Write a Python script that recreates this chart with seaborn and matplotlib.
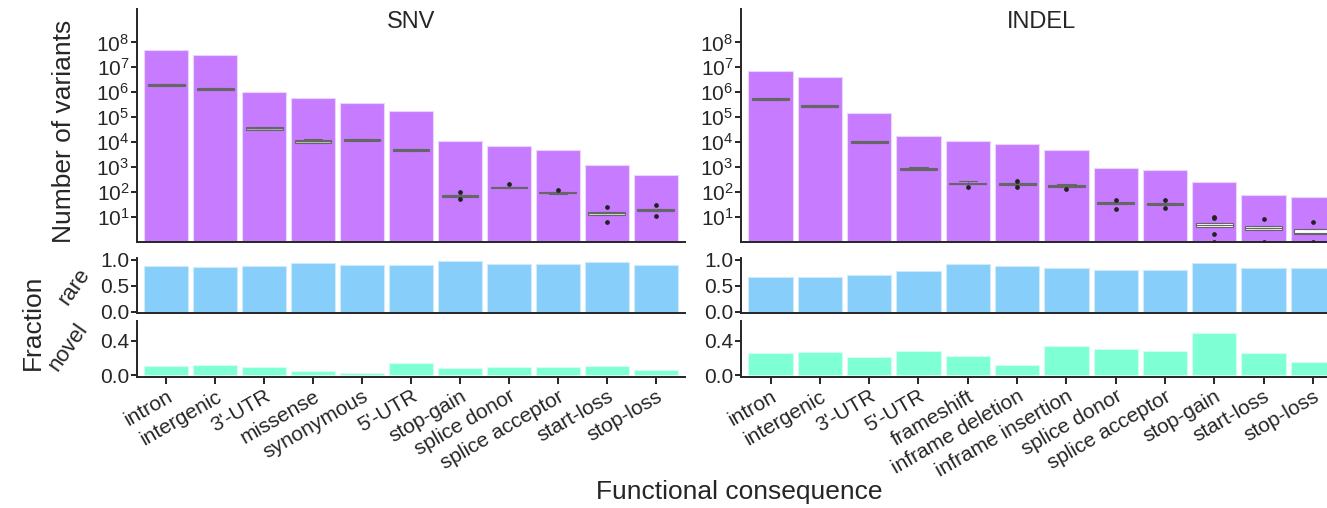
import numpy as np
import pandas as pd
import matplotlib
matplotlib.use("Agg")
import matplotlib.pyplot as plt
import seaborn as sns

# ---------------- data ----------------
snv_categories = ["intron", "intergenic", "3'-UTR", "missense", "synonymous", "5'-UTR",
                  "stop-gain", "splice donor", "splice acceptor", "start-loss", "stop-loss"]
snv_counts = [4.9e7, 3.0e7, 1.05e6, 5.6e5, 3.5e5, 1.7e5, 1.1e4, 6.9e3, 4.9e3, 1.2e3, 4.8e2]
snv_rare = [0.873, 0.86, 0.886, 0.93, 0.89, 0.90, 0.968, 0.91, 0.924, 0.956, 0.905]
snv_novel = [0.104, 0.116, 0.096, 0.048, 0.032, 0.144, 0.084, 0.096, 0.096, 0.104, 0.06]
# per-sample variant counts for each consequence
snv_per_sample = [
    [1.7e6, 1.7e6, 1.9e6, 2.1e6, 2.1e6],
    [1.18e6, 1.18e6, 1.3e6, 1.45e6, 1.45e6],
    [3.15e4, 3.15e4, 3.5e4, 3.9e4, 3.9e4],
    [9.4e3, 9.4e3, 1.05e4, 1.17e4, 1.3e4],
    [1.08e4, 1.08e4, 1.2e4, 1.34e4, 1.34e4],
    [4.2e3, 4.2e3, 4.7e3, 5.2e3, 5.2e3],
    [49, 64, 70, 77, 100],
    [140, 140, 150, 160, 200],
    [80, 86, 92, 98, 120],
    [6, 11.5, 13.5, 15.8, 25],
    [10.5, 17, 19, 21, 28],
]

indel_categories = ["intron", "intergenic", "3'-UTR", "5'-UTR", "frameshift", "inframe deletion",
                    "inframe insertion", "splice donor", "splice acceptor", "stop-gain",
                    "start-loss", "stop-loss"]
indel_counts = [6.9e6, 4.0e6, 1.45e5, 1.8e4, 1.1e4, 8.1e3, 4.7e3, 9.1e2, 7.6e2, 2.4e2, 74, 58]
indel_rare = [0.67, 0.66, 0.71, 0.79, 0.91, 0.873, 0.835, 0.81, 0.80, 0.937, 0.848, 0.842]
indel_novel = [0.256, 0.268, 0.216, 0.28, 0.228, 0.124, 0.34, 0.308, 0.28, 0.496, 0.256, 0.156]
indel_per_sample = [
    [4.7e5, 4.7e5, 5.2e5, 5.8e5, 5.8e5],
    [2.5e5, 2.5e5, 2.8e5, 3.1e5, 3.1e5],
    [9e3, 9e3, 1e4, 1.1e4, 1.1e4],
    [750, 750, 830, 920, 1.0e3],
    [150, 195, 210, 225, 260],
    [158, 192, 205, 220, 277],
    [129, 158, 170, 182, 200],
    [20, 31, 34, 37, 48],
    [22, 29, 32, 35, 47],
    [1, 2, 4, 4, 4.7, 5.5, 5.5, 8.5, 9.5],
    [1, 3.0, 3.6, 4.3, 8.3],
    [1, 2.05, 2.15, 3.2, 6],
]

# ---------------- styling ----------------
sns.set_style("ticks")
plt.rcParams["font.family"] = ["Liberation Sans", "DejaVu Sans"]
plt.rcParams["axes.linewidth"] = 1.4

PURPLE = "#C77CFF"
BLUE = "#87CEFA"
GREEN = "#7FFFD4"
snv_box_greys = ["#bcbcbc", "#b8b8b8", "#b4b4b4", "#c4c4c4", "#b4b4b4", "#b0b0b0",
                 "#505050", "#555555", "#6a6a6a", "#e0e0e0", "#d4d4d4"]
indel_box_greys = ["#b0b0b0", "#a4a4a4", "#949494", "#949494", "#3a3a3a", "#444444",
                   "#484848", "#7a7a7a", "#9c9c9c", "#ffffff", "#f2f2f2", "#ffffff"]

W, H = 1327, 508
fig = plt.figure(figsize=(W / 100, H / 100), dpi=100)


def px_axes(x0, y_top, x1, y_bot):
    return fig.add_axes([x0 / W, 1 - y_bot / H, (x1 - x0) / W, (y_bot - y_top) / H])


TICK_FS = 15


def style_axis(ax, n, show_x):
    sns.despine(ax=ax)
    ax.set_xlim(-0.6, n - 0.4)
    ax.set_xlabel("")
    ax.set_ylabel("")
    ax.tick_params(axis="y", length=4, width=1.2, labelsize=TICK_FS, pad=1.5, color="black")
    if show_x:
        ax.tick_params(axis="x", length=5, width=1.2, labelsize=TICK_FS, pad=2, color="black")
    else:
        ax.tick_params(axis="x", length=0, labelbottom=False)


def draw_counts(ax, cats, counts, samples, greys, title):
    ax.set_yscale("log")
    bars = pd.DataFrame({"consequence": cats, "variants": counts})
    # on the log axis the bars rise from a count of one
    sns.barplot(data=bars, x="consequence", y="variants", color=PURPLE, saturation=1,
                width=0.9, edgecolor="#EBD5FF", linewidth=0.8, bottom=1, ax=ax)
    long = pd.DataFrame([(c, v) for c, vals in zip(cats, samples) for v in vals],
                        columns=["consequence", "variants"])
    sns.boxplot(data=long, x="consequence", y="variants", hue="consequence",
                palette=greys, saturation=1, width=0.75, whis=1.2, linewidth=0.8,
                linecolor="#666666", fliersize=2.4, legend=False, log_scale=True,
                flierprops=dict(marker="o", markerfacecolor="#222222",
                                markeredgecolor="#222222"),
                ax=ax)
    style_axis(ax, len(cats), False)
    ax.set_ylim(10 ** -0.02, 10 ** 9.34)
    ax.set_yticks([10.0 ** k for k in range(1, 9)])
    ax.yaxis.set_minor_locator(matplotlib.ticker.NullLocator())
    ax.text(0.5, 0.944, title, transform=ax.transAxes, ha="center", va="center", fontsize=17)


def draw_fraction(ax, cats, values, color, edge, ylim, ticks, labels, show_x):
    df = pd.DataFrame({"consequence": cats, "fraction": values})
    sns.barplot(data=df, x="consequence", y="fraction", color=color, saturation=1,
                width=0.9, edgecolor=edge, linewidth=0.8, ax=ax)
    style_axis(ax, len(cats), show_x)
    ax.set_ylim(*ylim)
    ax.set_yticks(ticks)
    ax.set_yticklabels(labels)
    if show_x:
        ax.set_xticks(range(len(cats)))
        ax.set_xticklabels(cats, rotation=30, ha="right", va="top", rotation_mode="anchor")


panels = [
    (137, 685, snv_categories, snv_counts, snv_per_sample, snv_box_greys, snv_rare, snv_novel, "SNV"),
    (741, 1342.5, indel_categories, indel_counts, indel_per_sample, indel_box_greys, indel_rare, indel_novel, "INDEL"),
]

for x0, x1, cats, counts, samples, greys, rare, novel, title in panels:
    ax_top = px_axes(x0, 9, x1, 242)
    draw_counts(ax_top, cats, counts, samples, greys, title)
    ax_rare = px_axes(x0, 258, x1, 313)
    draw_fraction(ax_rare, cats, rare, BLUE, "#CDEBFD", (-0.02, 1.03), [0, 0.5, 1.0],
                  ["0.0", "0.5", "1.0"], False)
    ax_novel = px_axes(x0, 321, x1, 377)
    draw_fraction(ax_novel, cats, novel, GREEN, "#D2FFF0", (-0.02, 0.63), [0, 0.4],
                  ["0.0", "0.4"], True)

fig.text(64 / W, 1 - 131 / H, "Number of variants", rotation=90, ha="center", va="center", fontsize=19)
fig.text(33 / W, 1 - 322 / H, "Fraction", rotation=90, ha="center", va="center", fontsize=19)
fig.text(74 / W, 1 - 287 / H, "rare", rotation=55, ha="center", va="center", fontsize=16)
fig.text(68 / W, 1 - 347 / H, "novel", rotation=55, ha="center", va="center", fontsize=16)
fig.text(739 / W, 1 - 492 / H, "Functional consequence", ha="center", va="center", fontsize=19)

fig.savefig("out.png", dpi=100)
